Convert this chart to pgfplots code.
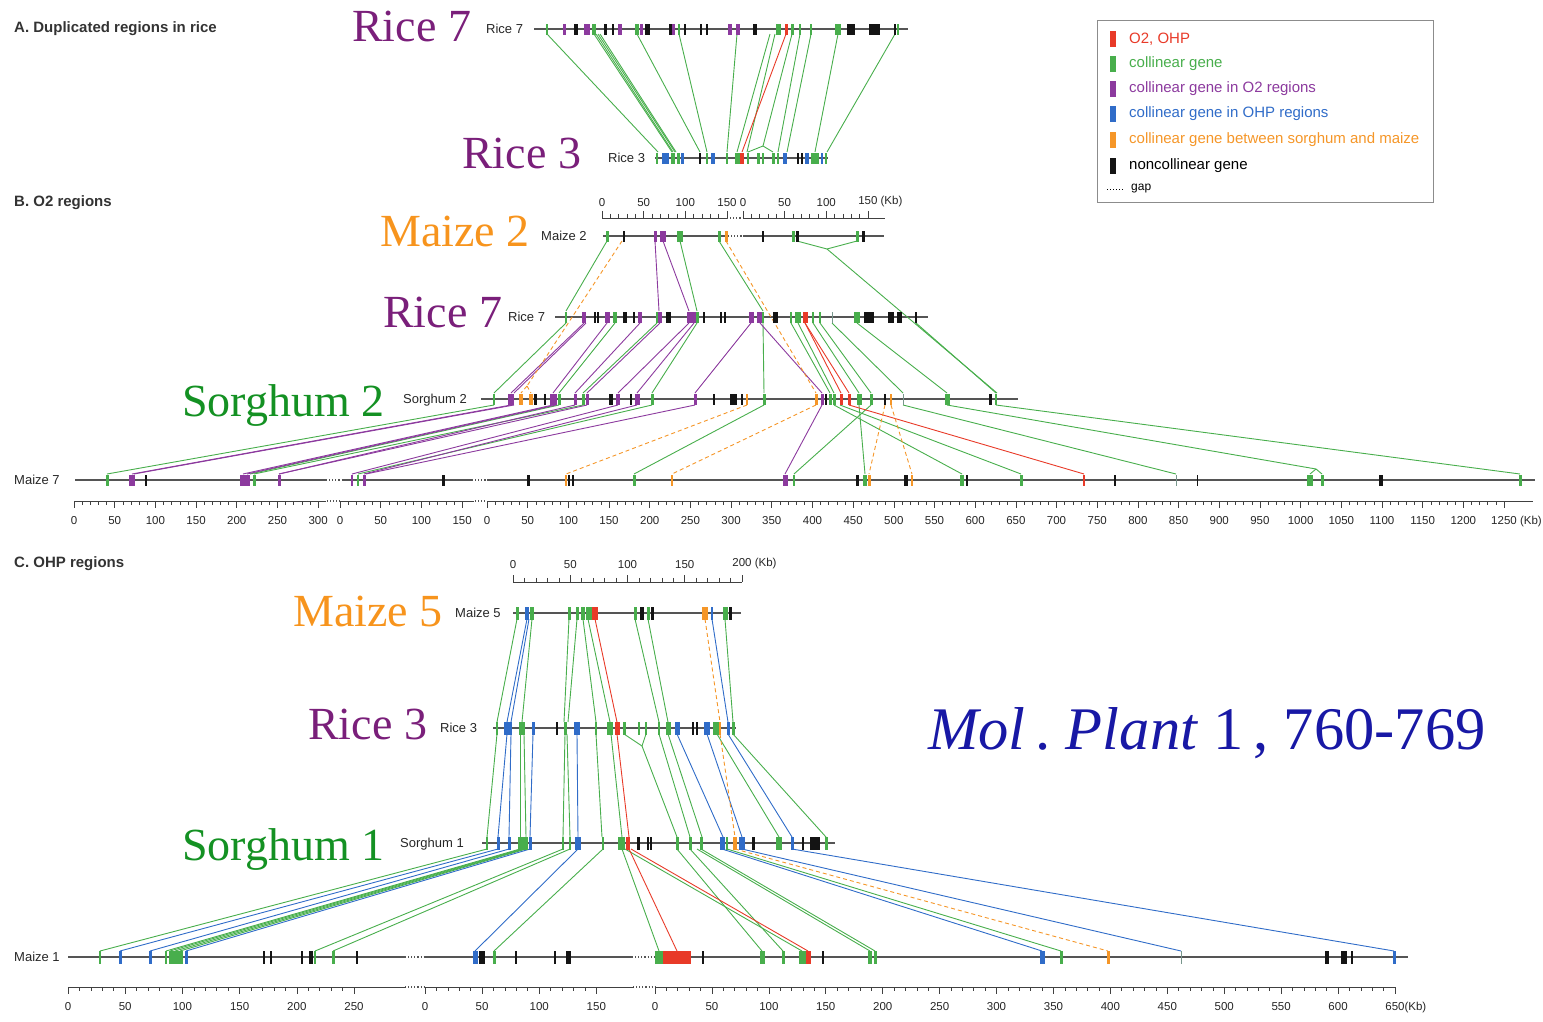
\documentclass[border=0pt]{standalone}
\usepackage{pgfplots}
\pgfplotsset{compat=1.18}
\usepackage{pgfplotstable}
\usepackage{fontspec}
\setmainfont{Liberation Sans}
\newfontfamily\serifont{Liberation Serif}

\definecolor{cR}{RGB}{232,58,40}
\definecolor{cG}{RGB}{72,174,76}
\definecolor{cP}{RGB}{140,58,158}
\definecolor{cB}{RGB}{48,108,200}
\definecolor{cO}{RGB}{245,150,40}
\definecolor{cK}{RGB}{20,20,20}
\definecolor{cL}{RGB}{120,150,140}
\definecolor{labP}{RGB}{122,31,122}
\definecolor{labO}{RGB}{247,148,29}
\definecolor{labG}{RGB}{20,145,35}
\definecolor{labB}{RGB}{24,24,165}
\definecolor{chrom}{RGB}{85,85,85}

\pgfdeclareplotmark{geneS}{\pgfpathrectangle{\pgfpoint{-0.5*\gw}{-5.5}}{\pgfpoint{\gw}{11}}\pgfusepathqfill}
\pgfdeclareplotmark{geneM}{\pgfpathrectangle{\pgfpoint{-0.5*\gw}{-6.5}}{\pgfpoint{\gw}{13}}\pgfusepathqfill}
\pgfdeclareplotmark{geneL}{\pgfpathrectangle{\pgfpoint{-0.5*\gw}{-8}}{\pgfpoint{\gw}{16}}\pgfusepathqfill}

\pgfplotsset{
  genes/.style={scatter, only marks, point meta=explicit symbolic,
    scatter/classes={r={cR},g={cG},p={cP},b={cB},o={cO},k={cK},l={cL}},
    visualization depends on={\thisrow{w}\as\gw}},
  conn/.style={line width=0.9pt, quiver={u={\thisrow{x2}-\thisrow{x1}}, v={\thisrow{y2}-\thisrow{y1}}}},
  rulerbase/.style={scale only axis, height=1pt, ymin=0, ymax=1, axis y line=none, ytick=\empty,
    axis line style={-, draw=black!75, line width=0.8pt},
    every inner x axis line/.append style={-}, every outer x axis line/.append style={-},
    x axis line style={-},
    tick style={draw=black!75, line width=0.6pt},
    major tick length=7pt, minor tick length=4pt, xtick align=outside, minor x tick num=4,
    tick label style={font=\fontsize{11.5}{12}\selectfont, text=black!85},
    /pgf/number format/assume math mode=true, /pgf/number format/1000 sep={},
    scaled x ticks=false, enlargelimits=false, clip=false, xmin=0},
  rulerdown/.style={axis x line=bottom, rulerbase, anchor=south west, xticklabel shift=5pt},
  rulerup/.style={axis x line=top, rulerbase, anchor=north west},
}

\begin{document}
\pgfplotstableread{
x1 y1 x2 y2
547 34 658 152
594 34 672 152
596 34 673 152
598 34 675 152
600 34 676 152
637 34 700 152
679 34 707 152
737 34 727 152
770 34 737 152
775 34 747 152
792 34 763 146
763 146 748 152
763 146 773 152
800 34 778 152
811 34 787 152
838 34 815 152
895 34 827 152
607 241 566 311
680 241 697 311
719 241 763 311
797 241 827 249
857 241 827 249
827 249 997 393
566 323 494 393
615 323 559 393
657 323 583 393
697 323 652 393
763 323 764 393
791 323 830 393
798 323 834 393
813 323 859 393
820 323 871 393
832 323 903 393
857 323 947 393
916 323 996 393
494 405 107 474
559 405 250 474
583 405 254 474
652 405 358 474
764 405 634 474
871 405 794 474
859 405 865 474
834 405 962 474
840 405 1021 474
903 405 1176 474
947 405 1316 469
1316 469 1310 474
1316 469 1322 474
996 405 1520 474
517 619 497 722
532 619 522 722
569 619 564 722
577 619 568 722
583 619 596 722
588 619 610 722
635 619 659 722
648 619 668 722
725 619 733 722
497 734 487 837
520 734 520 837
524 734 526 837
565 734 563 837
567 734 570 837
596 734 602 837
611 734 622 837
624 734 642 746
646 734 642 746
642 746 677 837
659 734 690 837
668 734 702 837
717 734 779 837
733 734 826 837
487 849 100 951
520 849 166 951
522 849 170 951
524 849 175 951
526 849 180 951
563 849 315 951
570 849 333 951
603 849 494 951
622 849 659 951
625 849 802 951
677 849 762 951
690 849 783 951
697 849 870 951
701 849 875 951
727 849 1061 951
}\connG
\pgfplotstableread{
x1 y1 x2 y2
655 241 659 311
663 241 689 311
584 323 511 393
586 323 514 393
607 323 553 393
640 323 575 393
660 323 587 393
689 323 618 393
694 323 637 393
751 323 695 393
760 323 822 393
511 405 132 474
514 405 134 474
553 405 243 474
556 405 247 474
575 405 279 474
587 405 279 474
618 405 352 474
637 405 364 474
695 405 366 474
822 405 785 474
}\connP
\pgfplotstableread{
x1 y1 x2 y2
527 619 507 722
529 619 511 722
712 619 728 722
507 734 498 837
511 734 509 837
533 734 530 837
577 734 578 837
677 734 723 837
707 734 742 837
728 734 792 837
498 849 120 951
509 849 150 951
530 849 186 951
578 849 475 951
722 849 1042 951
742 849 1181 951
792 849 1394 951
}\connB
\pgfplotstableread{
x1 y1 x2 y2
786 34 742 152
805 323 841 393
805 323 849 393
849 405 1084 474
595 619 617 722
617 734 629 837
629 849 677 951
631 849 808 951
}\connR
\pgfplotstableread{
x1 y1 x2 y2
622 241 527 386
527 386 521 393
527 386 531 393
726 241 816 393
747 405 566 474
816 405 672 474
885 405 869 474
891 405 912 474
705 619 720 722
720 734 735 837
735 849 1108 951
}\connO

\begin{tikzpicture}
\begin{axis}[at={(0pt,0pt)}, anchor=south west, width=1543pt, height=1021pt, scale only axis,
  xmin=0, xmax=1543, ymin=0, ymax=1021, y dir=reverse, hide axis, clip=false]
\addplot[draw=none] coordinates {(0,0) (1543,1021)};
% chromosome lines
\addplot[chrom, line width=1.1pt, unbounded coords=jump] table {
x y
534 29
908 29
nan nan
655 158
828 158
nan nan
603 236
728 236
nan nan
743 236
884 236
nan nan
555 317
928 317
nan nan
481 399
1018 399
nan nan
75 480
326 480
nan nan
343 480
472 480
nan nan
487 480
1535 480
nan nan
513 613
741 613
nan nan
493 728
736 728
nan nan
482 843
835 843
nan nan
68 957
405 957
nan nan
425 957
632 957
nan nan
655 957
1408 957
};
\addplot[chrom, line width=1.1pt, dotted, unbounded coords=jump] table {
x y
728 236
743 236
nan nan
326 480
343 480
nan nan
472 480
487 480
nan nan
405 957
425 957
nan nan
632 957
655 957
nan nan
727 218
743 218
nan nan
327 501
340 501
nan nan
475 501
487 501
nan nan
405 987
425 987
nan nan
633 987
655 987
};
% connections
\addplot[conn, cG] table[x=x1, y=y1] {\connG};
\addplot[conn, cP] table[x=x1, y=y1] {\connP};
\addplot[conn, cB] table[x=x1, y=y1] {\connB};
\addplot[conn, cR] table[x=x1, y=y1] {\connR};
\addplot[conn, cO, dash pattern=on 4pt off 3pt] table[x=x1, y=y1] {\connO};
% genes A and B
\addplot[genes, mark=geneS] table[meta=c] {
x y w c
547 29 2.5 g
564 29 3 p
576 29 3.5 k
587 29 6 p
594 29 4 g
605 29 3 k
613 29 2.5 k
620 29 4 p
637 29 4 g
641 29 3 p
647 29 5 k
670 29 3 k
673 29 3 p
679 29 2 g
685 29 2 k
701 29 2 k
707 29 2 k
730 29 4 p
738 29 4 p
755 29 4 k
778 29 5 g
786 29 3 r
792 29 3 g
800 29 2 g
811 29 2 g
838 29 6 g
851 29 8 k
874 29 11 k
895 29 2 k
898 29 2.5 g
657 158 2 g
665 158 7 b
673 158 4 g
678 158 3 g
682 158 3 b
700 158 2 k
707 158 2 g
713 158 4 b
727 158 2 g
737 158 5 g
742 158 4 r
748 158 2 g
758 158 3 g
763 158 2 g
773 158 3 g
778 158 2 g
785 158 4 b
798 158 2 k
802 158 2 k
807 158 4 b
813 158 5 g
817 158 3 g
822 158 2 b
826 158 2 g
607 236 3 g
624 236 2 k
655 236 3 p
663 236 6 p
680 236 6 g
719 236 3 g
726 236 3 o
763 236 2 k
793 236 3 g
797 236 3 k
857 236 3 g
863 236 3 k
566 317 2 g
584 317 4 p
595 317 2 k
598 317 2 k
607 317 5 p
615 317 4 g
625 317 4 k
634 317 2 k
640 317 4 p
657 317 3 g
660 317 4 p
668 317 5 k
689 317 5 p
694 317 4 p
697 317 3 g
704 317 2 k
721 317 2 k
725 317 2 k
751 317 5 p
760 317 6 p
763 317 2 g
775 317 5 k
791 317 2 g
798 317 6 g
805 317 5 r
813 317 2 g
820 317 2 g
832 317 1 l
857 317 6 g
866 317 4 k
871 317 6 k
891 317 6 k
899 317 5 k
916 317 2.5 k
494 399 2.5 g
511 399 6 p
521 399 4 o
531 399 4 o
535 399 3 k
545 399 1.5 k
553 399 7 p
559 399 3 g
575 399 3 p
583 399 3 g
587 399 3 p
611 399 4 k
618 399 4 p
631 399 1.5 k
637 399 5 p
652 399 3 g
695 399 3 p
714 399 2 k
733 399 7 k
742 399 2 k
747 399 2 o
764 399 3 g
816 399 3 o
822 399 3 p
826 399 2 k
830 399 3 g
834 399 3 g
841 399 3 r
849 399 3 r
859 399 5 g
871 399 3 g
885 399 2 k
891 399 2 o
903 399 1 l
947 399 5 g
990 399 3 k
996 399 2.5 g
107 480 3 g
132 480 6 p
146 480 2 k
245 480 10 p
254 480 3 g
279 480 3 p
352 480 1.5 p
358 480 1.5 g
364 480 3 p
443 480 3 k
528 480 3 k
566 480 2 o
569 480 2.5 k
573 480 2 k
634 480 3 g
672 480 2 o
785 480 5 p
794 480 2 g
857 480 3 k
865 480 4 g
869 480 3 o
906 480 4 k
912 480 2 o
962 480 4 g
967 480 2 k
1021 480 3 g
1084 480 2 r
1115 480 2 k
1176 480 1 l
1197 480 1 k
1310 480 6 g
1322 480 3 g
1381 480 4 k
1520 480 3 g
};
% genes C
\addplot[genes, mark=geneM] table[meta=c] {
x y w c
517 613 3 g
527 613 4 b
532 613 4 g
569 613 3 g
577 613 3 g
583 613 4 g
589 613 6 g
595 613 6 r
635 613 3 g
642 613 4 k
648 613 3 g
652 613 3 k
705 613 6 o
712 613 2 b
725 613 5 g
730 613 3 k
497 728 2 g
508 728 8 b
522 728 6 g
533 728 3 b
557 728 2 k
565 728 3 g
577 728 6 b
596 728 2 g
610 728 6 g
617 728 5 r
624 728 3 g
639 728 2 g
646 728 2 g
659 728 2 g
668 728 5 g
677 728 5 b
693 728 2 k
697 728 2 k
707 728 6 b
716 728 7 g
720 728 2 o
728 728 3 b
733 728 3 g
487 843 2 g
498 843 3 b
509 843 3 b
521 843 6 g
526 843 4 g
530 843 3 b
563 843 2 g
570 843 2 g
578 843 6 b
603 843 2 g
621 843 7 g
628 843 4 r
638 843 3 k
648 843 2 k
651 843 2 k
677 843 3 g
690 843 3 g
701 843 3 g
722 843 5 b
727 843 2 g
735 843 4 o
742 843 6 b
753 843 3 k
779 843 6 g
792 843 3 b
803 843 2 k
815 843 10 k
826 843 3 g
100 957 2 g
120 957 3 b
150 957 3 b
166 957 2 g
176 957 14 g
186 957 3 b
264 957 1.5 k
271 957 2 k
302 957 1.5 k
311 957 4 k
315 957 2 g
333 957 3 g
357 957 1.5 k
475 957 5 b
482 957 6 k
494 957 3 g
516 957 2 k
555 957 2 k
568 957 5 k
659 957 8 g
677 957 28 r
703 957 2 k
762 957 5 g
783 957 3 g
802 957 7 g
808 957 5 r
823 957 2 k
870 957 4 g
875 957 3 g
1042 957 5 b
1061 957 3 g
1108 957 3 o
1181 957 1 l
1327 957 4 k
1344 957 6 k
1352 957 2 k
1394 957 3 b
};
% legend
\addplot[black!45, line width=1pt] coordinates {(1097,20) (1433,20) (1433,202) (1097,202) (1097,20)};
\addplot[genes, mark=geneL] table[meta=c] {
x y w c
1113 39 6 r
1113 64 6 g
1113 89 6 p
1113 114 6 b
1113 140 6 o
1113 166 6 k
};
\addplot[black, dotted, line width=1pt] coordinates {(1107,189) (1123,189)};
\begin{scope}[every node/.style={anchor=west, inner sep=0pt, font=\fontsize{15}{15}\selectfont}]
\node[text=cR] at (axis cs:1129,39) {O2, OHP};
\node[text=cG] at (axis cs:1129,64) {collinear gene};
\node[text=cP] at (axis cs:1129,89) {collinear gene in O2 regions};
\node[text=cB] at (axis cs:1129,114) {collinear gene in OHP regions};
\node[text=cO] at (axis cs:1129,140) {collinear gene between sorghum and maize};
\node[text=black] at (axis cs:1129,166) {noncollinear gene};
\node[text=black, font=\fontsize{12}{12}\selectfont] at (axis cs:1131,189) {gap};
\end{scope}
% section headings
\begin{scope}[every node/.style={anchor=base west, inner sep=0pt, text=black!80, font=\bfseries\fontsize{15}{15}\selectfont}]
\node at (axis cs:14,32) {A. Duplicated regions in rice};
\node at (axis cs:14,206) {B. O2 regions};
\node at (axis cs:14,567) {C. OHP regions};
\end{scope}
% chromosome labels
\begin{scope}[every node/.style={anchor=base west, inner sep=0pt, text=black!85, font=\fontsize{13}{13}\selectfont}]
\node at (axis cs:486,33.5) {Rice 7};
\node at (axis cs:608,162.5) {Rice 3};
\node at (axis cs:541,240.5) {Maize 2};
\node at (axis cs:508,321.5) {Rice 7};
\node at (axis cs:403,403.5) {Sorghum 2};
\node at (axis cs:14,484.5) {Maize 7};
\node at (axis cs:455,617.5) {Maize 5};
\node at (axis cs:440,732.5) {Rice 3};
\node at (axis cs:400,847.5) {Sorghum 1};
\node at (axis cs:14,961.5) {Maize 1};
\end{scope}
% big labels
\begin{scope}[every node/.style={anchor=base west, inner sep=0pt, font=\serifont\fontsize{46}{46}\selectfont}]
\node[text=labP] at (axis cs:352,41) {Rice 7};
\node[text=labP] at (axis cs:462,168) {Rice 3};
\node[text=labO] at (axis cs:380,246) {Maize 2};
\node[text=labP] at (axis cs:383,327) {Rice 7};
\node[text=labG] at (axis cs:182,416) {Sorghum 2};
\node[text=labO] at (axis cs:293,626) {Maize 5};
\node[text=labP] at (axis cs:308,739) {Rice 3};
\node[text=labG] at (axis cs:182,860) {Sorghum 1};
\end{scope}
\node[anchor=base west, inner sep=0pt, text=labB, font=\serifont\fontsize{60.5}{60.5}\selectfont] at (axis cs:928,749) {\itshape Mol\/\upshape\,.\ \itshape Plant\/\upshape\ 1\,,\ 760-769};
\end{axis}
% rulers B top
\begin{axis}[rulerup, at={(602pt,803pt)}, width=125pt, xmax=150, xtick={0,50,100,150}, xticklabel shift=1pt]
\addplot[draw=none] coordinates {(0,0)};
\end{axis}
\begin{axis}[rulerup, at={(743pt,803pt)}, width=141.5pt, xmax=170, xtick={0,50,100,150}, xticklabel shift=1pt, xticklabels={0,50,100,150\rlap{ (Kb)}}]
\addplot[draw=none] coordinates {(0,0)};
\end{axis}
% rulers B bottom
\begin{axis}[rulerdown, at={(74pt,520pt)}, width=252.3pt, xmax=310, xtick={0,50,...,300}]
\addplot[draw=none] coordinates {(0,0)};
\end{axis}
\begin{axis}[rulerdown, at={(340pt,520pt)}, width=134.3pt, xmax=165, xtick={0,50,...,150}]
\addplot[draw=none] coordinates {(0,0)};
\end{axis}
\begin{axis}[rulerdown, at={(487pt,520pt)}, width=1045.5pt, xmax=1285, xtick={0,50,...,1250},
  xticklabels={0,50,100,150,200,250,300,350,400,450,500,550,600,650,700,750,800,850,900,950,1000,1050,1100,1150,1200,1250\rlap{ (Kb)}}]
\addplot[draw=none] coordinates {(0,0)};
\end{axis}
% ruler C top
\begin{axis}[rulerup, at={(513pt,439pt)}, width=229pt, xmax=200, xtick={0,50,...,200}, xticklabel shift=3pt, xticklabels={0,50,100,150,200\rlap{ (Kb)}}]
\addplot[draw=none] coordinates {(0,0)};
\end{axis}
% rulers C bottom
\begin{axis}[rulerdown, at={(68pt,34pt)}, width=337.5pt, xmax=295, xtick={0,50,...,250}]
\addplot[draw=none] coordinates {(0,0)};
\end{axis}
\begin{axis}[rulerdown, at={(425pt,34pt)}, width=209pt, xmax=183, xtick={0,50,...,150}]
\addplot[draw=none] coordinates {(0,0)};
\end{axis}
\begin{axis}[rulerdown, at={(655pt,34pt)}, width=740pt, xmax=650, xtick={0,50,...,650},
  xticklabels={0,50,100,150,200,250,300,350,400,450,500,550,600,650\rlap{(Kb)}}]
\addplot[draw=none] coordinates {(0,0)};
\end{axis}
\end{tikzpicture}
\end{document}
